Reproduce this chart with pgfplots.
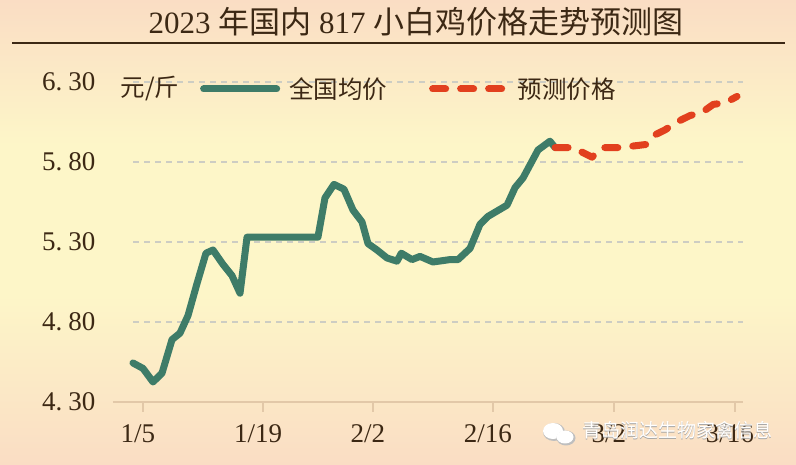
\documentclass[border=0pt]{standalone}
\usepackage{pgfplots}
\pgfplotsset{compat=1.18}
\usepackage{fontspec}
\setmainfont{Liberation Serif}
\newfontfamily\cjk{Noto Sans CJK SC}
\definecolor{peach}{RGB}{250,221,196}
\definecolor{pyellow}{RGB}{253,246,200}
\definecolor{gline}{RGB}{62,124,104}
\definecolor{rline}{RGB}{226,64,30}
\definecolor{tanc}{RGB}{226,200,168}
\definecolor{txt}{RGB}{60,40,20}
\definecolor{gridc}{RGB}{205,205,195}
\begin{document}
\begin{tikzpicture}[x=1pt,y=1pt]
\useasboundingbox (0,0) rectangle (796,465);
\shade[bottom color=peach, top color=pyellow] (0,0) rectangle (796,170);
\fill[pyellow] (0,169.5) rectangle (796,320.5);
\shade[bottom color=pyellow, top color=peach] (0,320) rectangle (796,465);
\node[font=\fontsize{31}{33}\selectfont, text=txt] at (416,443) {2023 {\cjk 年国内} 817 {\cjk 小白鸡价格走势预测图}};
\draw[txt, line width=2pt] (12,422) -- (785,422);
\foreach \yy in {6.3,5.8,5.3,4.8} {
  \draw[gridc, line width=1.4pt, dash pattern=on 6pt off 5pt] (133,{63+(\yy-4.3)*160}) -- (743,{63+(\yy-4.3)*160});
}
\begin{axis}[
  at={(113pt,63pt)}, anchor=south west,
  scale only axis, width=630pt, height=344pt,
  xmin=-3.47, xmax=69.44, ymin=4.30, ymax=6.45,
  axis x line*=bottom, axis y line*=left,
  y axis line style={draw=none},
  x axis line style={draw=tanc, line width=1.5pt, -},
  xtick={0,13.9,26.6,40.5,54.5,68.5},
  xticklabels={1/5,1/19,2/2,2/16,3/2,3/16},
  ytick={4.3,4.8,5.3,5.8,6.3},
  yticklabels={4.\hspace{6pt}30,4.\hspace{6pt}80,5.\hspace{6pt}30,5.\hspace{6pt}80,6.\hspace{6pt}30},
  tick align=outside, major tick length=10pt,
  xtick style={draw=tanc, line width=1.5pt},
  ytick style={draw=none},
  ticklabel style={font=\fontsize{27}{28}\selectfont, text=txt},
  xticklabel style={xshift=-5pt, yshift=-9pt},
  yticklabel style={xshift=-4pt},
  /pgf/number format/assume math mode=true,
  legend style={at={(0.138,0.91)}, anchor=west, draw=none, fill=none, inner sep=0pt,
    font=\cjk\fontsize{24.5}{26}\selectfont, text=txt,
    /tikz/every odd column/.append style={column sep=7pt},
    /tikz/every even column/.append style={column sep=40pt}},
  legend columns=-1,
  legend cell align=left,
]
\addplot[gline, line width=7pt, line join=round, line cap=round,
  legend image code/.code={\draw[gline, line width=7pt, line cap=round] (3.5pt,0pt) -- (76.5pt,0pt);}]
coordinates {
(-1.16,4.544) (0,4.51) (1.16,4.425) (2.2,4.48) (3.36,4.69) (4.28,4.73) (5.21,4.84)
(6.25,5.04) (7.29,5.23) (8.1,5.25) (9.26,5.16) (10.3,5.09) (11.23,4.98) (12.04,5.33)
(20.25,5.33) (21.06,5.575) (22.1,5.66) (23.26,5.63) (24.3,5.50) (25.35,5.425) (26.04,5.29)
(27.08,5.25) (28.24,5.20) (29.4,5.18) (29.9,5.23) (31.13,5.19) (32.06,5.21) (33.56,5.175)
(35.53,5.19) (36.46,5.19) (37.85,5.26) (39.0,5.41) (39.93,5.46) (42.13,5.53) (43.06,5.64)
(43.98,5.70) (45.72,5.875) (47.1,5.93) (47.69,5.89)
};
\addlegendentry{全国均价}
\addplot[rline, line width=7pt, line join=round, line cap=round, dash pattern=on 13pt off 15pt,
  legend image code/.code={\draw[rline, line width=7pt, line cap=round, dash pattern=on 13pt off 15pt] (3.5pt,0pt) -- (76pt,0pt);}]
coordinates {
(47.69,5.89) (49.77,5.89) (51.97,5.83) (53.1,5.89) (55.2,5.89) (58.3,5.91) (59.26,5.97)
(60.4,6.00) (61.8,6.05) (63.3,6.09) (64.7,6.11) (66.0,6.16) (67.4,6.17) (68.75,6.21)
};
\addlegendentry{预测价格}
\end{axis}
\node[font=\cjk\fontsize{24.5}{26}\selectfont, text=txt] at (150,376) {元/斤};
\fill[gray!50] (554,33) ellipse (11 and 9);
\fill[white] (553,34) ellipse (10 and 8);
\fill[gray!50] (566,27) ellipse (9.5 and 7.5);
\fill[white] (565,28) ellipse (8.5 and 6.5);
\node[font=\cjk\fontsize{19}{20}\selectfont, text=gray!70] at (677.8,34.2) {青岛润达生物家禽信息};
\node[font=\cjk\fontsize{19}{20}\selectfont, text=white] at (677,35) {青岛润达生物家禽信息};
\end{tikzpicture}
\end{document}
